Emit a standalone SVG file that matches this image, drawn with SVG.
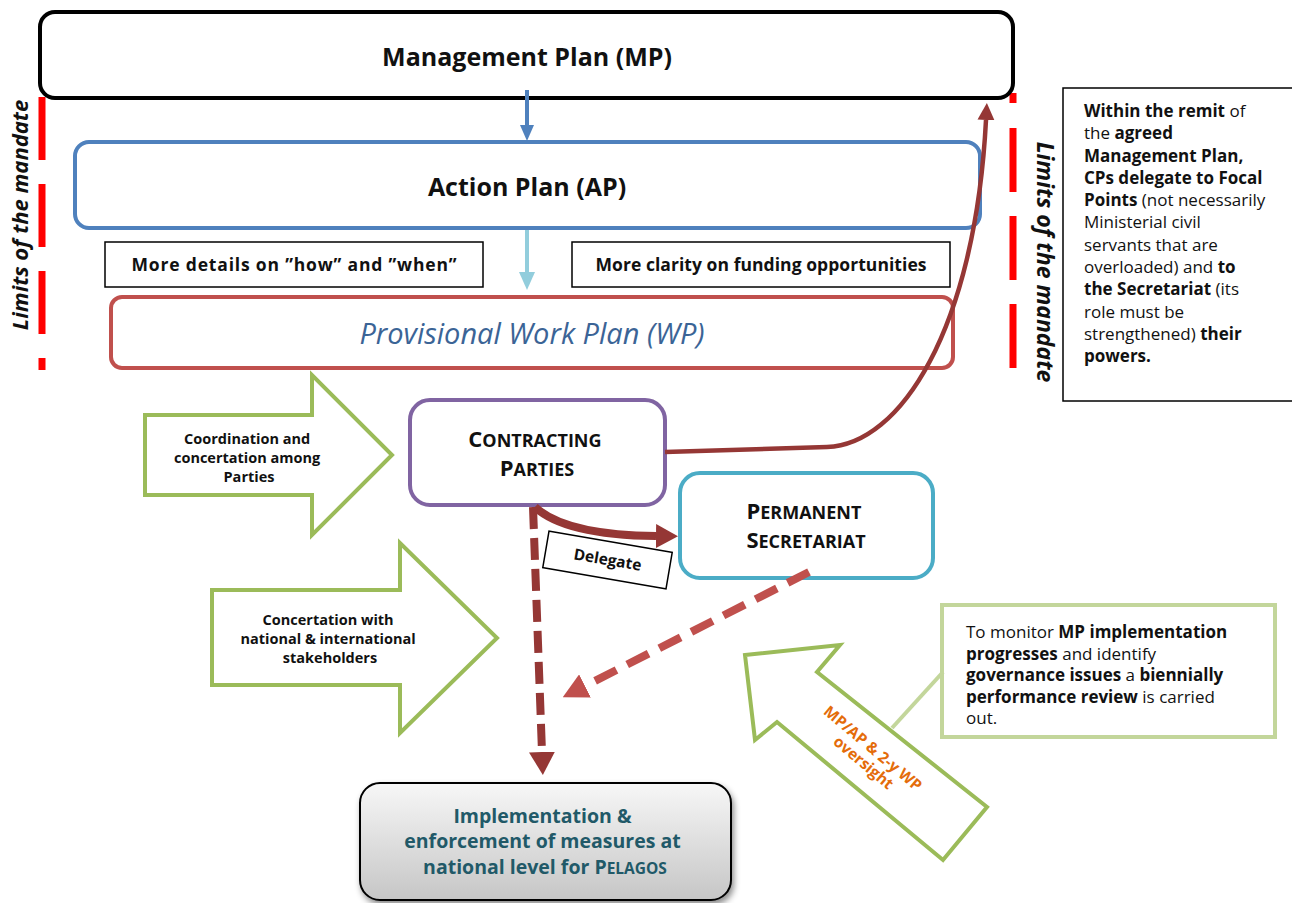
<svg xmlns="http://www.w3.org/2000/svg" width="1292" height="903" viewBox="0 0 1292 903">
<defs>
<style>
text{font-family:"Open Sans","Liberation Sans",sans-serif;fill:#111}
.b{font-weight:700}
.node{fill:#fff;stroke-width:4}
.lbl{fill:#fff;stroke:#000;stroke-width:1.5}
.green{fill:#fff;stroke:#9bbb59;stroke-width:4;stroke-linejoin:miter}
.mand{stroke:#ff0000;stroke-width:7;fill:none}
.mandsh{stroke:#9a9a9a;stroke-width:7;fill:none;filter:url(#blur)}
.mtext{font-size:22px;font-weight:700;font-style:italic}
.rt{font-size:17px}
.gt{font-size:14.5px;font-weight:700}
</style>
<filter id="blur" x="-100%" y="-10%" width="300%" height="120%"><feGaussianBlur stdDeviation="1.5"/></filter>
<filter id="shadow" x="-10%" y="-10%" width="120%" height="130%"><feDropShadow dx="2" dy="4" stdDeviation="3" flood-color="#000" flood-opacity="0.45"/></filter>
<linearGradient id="gray" x1="0" y1="0" x2="0" y2="1"><stop offset="0" stop-color="#f7f7f7"/><stop offset="1" stop-color="#c6c6c6"/></linearGradient>
<marker id="aBlue" markerUnits="userSpaceOnUse" markerWidth="16" markerHeight="14" refX="0" refY="7" orient="auto"><path d="M0,0 L16,7 L0,14 z" fill="#4f81bd"/></marker>
<marker id="aLBlue" markerUnits="userSpaceOnUse" markerWidth="18" markerHeight="16" refX="0" refY="8" orient="auto"><path d="M0,0 L18,8 L0,16 z" fill="#92cddc"/></marker>
<marker id="aDark" markerUnits="userSpaceOnUse" markerWidth="17" markerHeight="17" refX="0" refY="8.5" orient="auto"><path d="M0,0 L17,8.5 L0,17 z" fill="#953735"/></marker>
<marker id="aDel" markerUnits="userSpaceOnUse" markerWidth="22" markerHeight="24" refX="0" refY="12" orient="auto"><path d="M0,0 L22,12 L0,24 z" fill="#953735"/></marker>
<marker id="aDown" markerUnits="userSpaceOnUse" markerWidth="23" markerHeight="26" refX="0" refY="13" orient="auto"><path d="M0,0 L23,13 L0,26 z" fill="#953735"/></marker>
<marker id="aDiag" markerUnits="userSpaceOnUse" markerWidth="25" markerHeight="26" refX="0" refY="13" orient="auto"><path d="M0,0 L25,13 L0,26 z" fill="#c0504d"/></marker>
</defs>

<rect width="1292" height="903" fill="#fff"/>

<g id="mandate-left">
<line class="mandsh" x1="44" y1="97" x2="44" y2="372"/>
<line class="mand" x1="42" y1="97" x2="42" y2="370" stroke-dasharray="63 24"/>
<text class="mtext" transform="translate(28,215) rotate(-90)" text-anchor="middle">Limits of the mandate</text>
</g>

<g id="mandate-right">
<line class="mandsh" x1="1015" y1="93" x2="1015" y2="370"/>
<line class="mand" x1="1013" y1="93" x2="1013" y2="368" stroke-dasharray="10 25 64 24 64 24 64 24"/>
<text class="mtext" transform="translate(1037,262) rotate(90)" text-anchor="middle" font-size="23" style="font-size:23px">Limits of the mandate</text>
</g>

<g id="mp">
<rect class="node" x="40" y="12" width="973" height="86" rx="15" stroke="#000"/>
<text class="b" x="527" y="66" font-size="25" text-anchor="middle">Management Plan (MP)</text>
</g>

<g id="ap">
<rect class="node" x="75" y="142" width="905" height="86" rx="14" stroke="#4f81bd"/>
<text class="b" x="527" y="196" font-size="25" text-anchor="middle">Action Plan (AP)</text>
</g>

<g id="note-how">
<rect class="lbl" x="105" y="242" width="378" height="45"/>
<text class="b" x="294" y="271" font-size="17.5" text-anchor="middle" textLength="325" lengthAdjust="spacing">More details on ”how” and ”when”</text>
</g>

<g id="note-funding">
<rect class="lbl" x="572" y="242" width="378" height="45"/>
<text class="b" x="761" y="271" font-size="17.5" text-anchor="middle" textLength="331" lengthAdjust="spacing">More clarity on funding opportunities</text>
</g>

<g id="wp">
<rect class="node" x="111" y="297" width="842" height="71" rx="11" stroke="#c0504d"/>
<text x="532" y="344" font-size="29" font-weight="500" font-style="italic" text-anchor="middle" style="fill:#3b6496">Provisional Work Plan (WP)</text>
</g>

<g id="note-remit">
<rect class="lbl" x="1063" y="88" width="240" height="313"/>
<text class="rt">
<tspan x="1084" y="117"><tspan class="b">Within the remit</tspan> of</tspan>
<tspan x="1084" y="139.3">the <tspan class="b">agreed</tspan></tspan>
<tspan x="1084" y="161.5" class="b">Management Plan,</tspan>
<tspan x="1084" y="183.8" class="b">CPs delegate to Focal</tspan>
<tspan x="1084" y="206.1"><tspan class="b">Points</tspan> (not necessarily</tspan>
<tspan x="1084" y="228.4">Ministerial civil</tspan>
<tspan x="1084" y="250.6">servants that are</tspan>
<tspan x="1084" y="272.9">overloaded) and <tspan class="b">to</tspan></tspan>
<tspan x="1084" y="295.2"><tspan class="b">the Secretariat</tspan> (its</tspan>
<tspan x="1084" y="317.5">role must be</tspan>
<tspan x="1084" y="339.7">strengthened) <tspan class="b">their</tspan></tspan>
<tspan x="1084" y="362" class="b">powers.</tspan>
</text>
</g>

<g id="arrow-coordination">
<polygon class="green" points="145,415 312,415 312,375 392,455 312,535 312,495 145,495"/>
<text class="gt" text-anchor="middle">
<tspan x="249" y="444">Coordination and</tspan>
<tspan x="249" y="463">concertation among</tspan>
<tspan x="249" y="482">Parties</tspan>
</text>
</g>

<g id="arrow-concertation">
<polygon class="green" points="212,590 400,590 400,543 497,638 400,733 400,685 212,685"/>
<text class="gt" text-anchor="middle">
<tspan x="330" y="625">Concertation with</tspan>
<tspan x="330" y="644">national &amp; international</tspan>
<tspan x="330" y="663">stakeholders</tspan>
</text>
</g>

<g id="cp">
<rect class="node" x="410" y="400" width="255" height="105" rx="20" stroke="#8064a2"/>
<text class="b" text-anchor="middle">
<tspan x="537" y="447"><tspan font-size="22">C</tspan><tspan font-size="18">ONTRACTING</tspan></tspan>
<tspan x="537" y="476"><tspan font-size="22">P</tspan><tspan font-size="18">ARTIES</tspan></tspan>
</text>
</g>

<g id="ps">
<rect class="node" x="680" y="473" width="253" height="105" rx="20" stroke="#4bacc6"/>
<text class="b" text-anchor="middle">
<tspan x="806" y="519"><tspan font-size="22">P</tspan><tspan font-size="18">ERMANENT</tspan></tspan>
<tspan x="806" y="548"><tspan font-size="22">S</tspan><tspan font-size="18">ECRETARIAT</tspan></tspan>
</text>
</g>

<g id="arrow-oversight">
<polygon class="green" points="745,655 840,645 817,672 987,807 943,860 777,722 755,740"/>
<text class="b" font-size="15.5" text-anchor="middle" transform="translate(869,756) rotate(40)" style="fill:#e46c0a">
<tspan x="0" y="-3">MP/AP &amp; 2-y WP</tspan>
<tspan x="0" y="14">oversight</tspan>
</text>
</g>

<g id="note-review">
<rect x="942" y="605" width="333" height="132" fill="#fff" stroke="#c3d69b" stroke-width="4"/>
<text class="rt">
<tspan x="966" y="638">To monitor <tspan class="b">MP implementation</tspan></tspan>
<tspan x="966" y="659.5"><tspan class="b">progresses</tspan> and identify</tspan>
<tspan x="966" y="681"><tspan class="b">governance issues</tspan> a <tspan class="b">biennially</tspan></tspan>
<tspan x="966" y="702.5"><tspan class="b">performance review</tspan> is carried</tspan>
<tspan x="966" y="724">out.</tspan>
</text>
</g>

<g id="implementation">
<rect x="360" y="783" width="371" height="117" rx="20" fill="url(#gray)" stroke="#000" stroke-width="2" filter="url(#shadow)"/>
<text class="b" font-size="19.5" text-anchor="middle" style="fill:#215968">
<tspan x="545" y="823">Implementation &amp;</tspan>
<tspan x="545" y="848">enforcement of measures at</tspan>
<tspan x="545" y="874">national level for P<tspan font-size="15.5">ELAGOS</tspan></tspan>
</text>
</g>

<g id="connectors">
<line x1="527" y1="90" x2="527" y2="125" stroke="#4f81bd" stroke-width="4" marker-end="url(#aBlue)"/>
<line x1="527" y1="230" x2="527" y2="272" stroke="#92cddc" stroke-width="4" marker-end="url(#aLBlue)"/>
<path d="M665 452 L827 447 C900 445 975 330 986 120" stroke="#953735" stroke-width="4.5" fill="none" marker-end="url(#aDark)"/>
<path d="M535 507 Q565 535 656 536" stroke="#953735" stroke-width="8" fill="none" marker-end="url(#aDel)"/>
<line x1="533" y1="507" x2="542" y2="752" stroke="#953735" stroke-width="8" stroke-dasharray="22 9" marker-end="url(#aDown)"/>
<line x1="809" y1="572" x2="585" y2="686" stroke="#c0504d" stroke-width="8" stroke-dasharray="24 12" marker-end="url(#aDiag)"/>
<line x1="943" y1="672" x2="892" y2="728" stroke="#c3d69b" stroke-width="4"/>
</g>

<g id="delegate-label" transform="translate(607.5,560) rotate(9.7)">
<rect class="lbl" x="-62.5" y="-18.5" width="125" height="37"/>
<text class="b" y="5" font-size="15.5" text-anchor="middle">Delegate</text>
</g>
</svg>
